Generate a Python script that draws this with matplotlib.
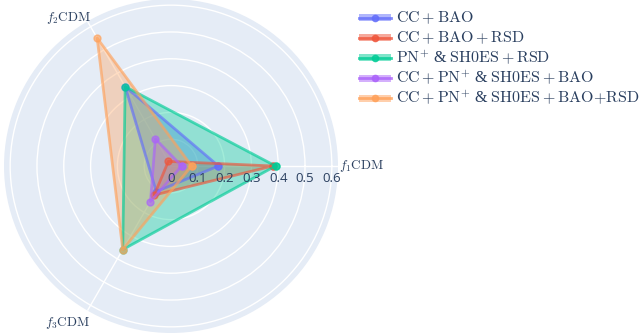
import numpy as np
import matplotlib
matplotlib.use("Agg")
import matplotlib.pyplot as plt
from matplotlib.patches import Rectangle
from matplotlib.lines import Line2D

plt.rcParams["mathtext.fontset"] = "cm"

# Axes of the radar chart
axes_labels = [r"$f_1\mathrm{CDM}$", r"$f_2\mathrm{CDM}$", r"$f_3\mathrm{CDM}$"]
axes_angles_deg = [0, 120, 240]

# Dataset combinations (legend names)
series_names = [
    r"$\mathrm{CC}+\mathrm{BAO}$",
    r"$\mathrm{CC}+\mathrm{BAO}+\mathrm{RSD}$",
    r"$\mathrm{PN}^{+}$ & $\mathrm{SH0ES}+\mathrm{RSD}$",
    r"$\mathrm{CC}+\mathrm{PN}^{+}$ & $\mathrm{SH0ES}+\mathrm{BAO}$",
    r"$\mathrm{CC}+\mathrm{PN}^{+}$ & $\mathrm{SH0ES}+\mathrm{BAO}{+}\mathrm{RSD}$",
]

# Values on (f1CDM, f2CDM, f3CDM) for each combination
cc_bao = [0.177, 0.342, 0.11]
cc_bao_rsd = [0.38, 0.02, 0.125]
pn_sh0es_rsd = [0.39, 0.342, 0.36]
cc_pn_sh0es_bao = [0.04, 0.117, 0.153]
cc_pn_sh0es_bao_rsd = [0.077, 0.551, 0.36]
series_values = [cc_bao, cc_bao_rsd, pn_sh0es_rsd, cc_pn_sh0es_bao, cc_pn_sh0es_bao_rsd]

colors = ["#636efa", "#EF553B", "#00cc96", "#ab63fa", "#FFA15A"]
line_alpha = 0.65
fill_alpha = 0.36

radial_ticks = [0, 0.1, 0.2, 0.3, 0.4, 0.5, 0.6]
radial_tick_labels = ["0", "0.1", "0.2", "0.3", "0.4", "0.5", "0.6"]
r_max = 0.623

text_color = "#2a3f5f"
W, H = 640, 336

fig = plt.figure(figsize=(W / 100, H / 100), dpi=100)
fig.patch.set_facecolor("white")

# polar area: centre (171, 166) px from top-left, radius 167 px
cx, cy, rad = 171, 166, 167
ax = fig.add_axes([(cx - rad) / W, (H - cy - rad) / H, 2 * rad / W, 2 * rad / H],
                  projection="polar")
ax.set_facecolor("#e5ecf6")
ax.spines["polar"].set_visible(False)
ax.set_ylim(0, r_max)
ax.set_rgrids(radial_ticks[1:], labels=[""] * (len(radial_ticks) - 1))
ax.set_thetagrids(axes_angles_deg, labels=["", "", ""])
ax.grid(color="white", linewidth=1.0)
ax.tick_params(length=0)

theta = np.deg2rad(axes_angles_deg)
theta_closed = np.append(theta, theta[0])
for vals, col in zip(series_values, colors):
    v = np.append(vals, vals[0])
    ax.fill(theta_closed, v, color=col, alpha=fill_alpha, linewidth=0, zorder=3)
    ax.plot(theta_closed, v, color=col, linewidth=2, marker="o", markersize=5,
            alpha=line_alpha, zorder=4, clip_on=False)

# radial tick labels under the 0-degree axis
for r, lab in zip(radial_ticks, radial_tick_labels):
    ax.annotate(lab, xy=(0, r), xytext=(0, -9), textcoords="offset points",
                ha="center", va="center", fontsize=9.5, color=text_color,
                family="Open Sans", annotation_clip=False, zorder=5)

# angular axis labels
px_per_unit = rad / r_max
ax.text(0, (339 - cx) / px_per_unit, axes_labels[0], ha="left", va="center",
        fontsize=9.5, color=text_color, clip_on=False)
ax.text(np.deg2rad(124.8), 180 / px_per_unit, axes_labels[1], ha="center", va="center",
        fontsize=9.5, color=text_color, clip_on=False)
ax.text(np.deg2rad(236.7), 188 / px_per_unit, axes_labels[2], ha="center", va="center",
        fontsize=9.5, color=text_color, clip_on=False)

# legend
def fx(x):
    return x / W

def fy(y):
    return 1 - y / H

for i, (name, col) in enumerate(zip(series_names, colors)):
    y = 17.5 + i * 20.2
    fig.add_artist(Rectangle((fx(359), fy(y + 3.5)), fx(391) - fx(359), 7 / H,
                             transform=fig.transFigure, facecolor=col, alpha=0.5,
                             edgecolor="none"))
    fig.add_artist(Line2D([fx(359), fx(391)], [fy(y), fy(y)], transform=fig.transFigure,
                          color=col, linewidth=2, alpha=0.8))
    fig.add_artist(Line2D([fx(375)], [fy(y)], transform=fig.transFigure, color=col,
                          marker="o", markersize=4.5, linestyle="none", alpha=0.8))
    fig.text(fx(396), fy(y), name, ha="left", va="center", fontsize=11.5,
             color=text_color, family="Liberation Serif")

fig.savefig("out.png", dpi=100)
